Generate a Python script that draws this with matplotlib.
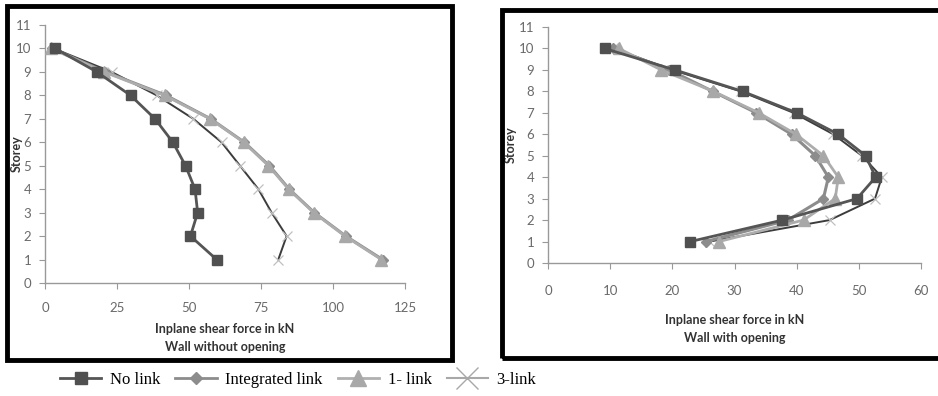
import matplotlib.pyplot as plt
from matplotlib.patches import Rectangle
from matplotlib.lines import Line2D

storey = [10, 9, 8, 7, 6, 5, 4, 3, 2, 1]

# wall without opening
no_link_a = [3.5, 18, 29.7, 38.2, 44.4, 48.8, 52.1, 53.0, 50.5, 59.6]
integ_a = [2.5, 21, 42, 57.5, 69.2, 77.9, 84.8, 93.5, 104.4, 117.2]
one_a = [2.0, 20.5, 41.5, 57.3, 69.0, 77.6, 84.6, 93.3, 104.2, 116.8]
three_a = [3.0, 23.1, 38.8, 51.5, 61.3, 67.7, 74.1, 78.7, 83.9, 81.0]

# wall with opening
no_link_b = [9.1, 20.4, 31.3, 40.0, 46.7, 51.1, 52.7, 49.7, 37.7, 22.9]
integ_b = [10.5, 19.5, 26.5, 33.5, 39.2, 43.0, 45.1, 44.3, 38.6, 25.4]
one_b = [11.4, 18.2, 26.6, 33.9, 39.9, 44.3, 46.7, 46.2, 41.1, 27.5]
three_b = [10.5, 20.0, 31.0, 39.5, 45.9, 50.5, 53.7, 52.6, 45.3, 26.0]

names = ['No link', 'Integrated link', '1- link', '3-link']

plt.rcParams['font.family'] = ['Lato', 'DejaVu Sans']

fig = plt.figure(figsize=(9.38, 3.96), dpi=100)
W, H = 938.0, 396.0


def draw(ax, nl, il, ol, tl, xmax, xstep, sub, pad, lpad, ylx):
    ax.plot(nl, storey, color='#555555', lw=2, marker='s', ms=7, mfc='#505050', mec='#505050', zorder=5)
    ax.plot(il, storey, color='#8c8c8c', lw=2.2, marker='D', ms=5, mfc='#8c8c8c', mec='#8c8c8c', zorder=3)
    ax.plot(ol, storey, color='#adadad', lw=2, marker='^', ms=8, mfc='#a8a8a8', mec='#a8a8a8', zorder=4)
    ax.plot(tl, storey, color='#3c3c3c', lw=1.4, marker='x', ms=7, mew=0.9, mec='#c0c0c0', zorder=2)
    ax.set_xlim(0, xmax)
    ax.set_ylim(0, 11)
    ax.set_xticks(range(0, xmax + 1, xstep))
    ax.set_yticks(range(0, 12))
    for s in ['top', 'right']:
        ax.spines[s].set_visible(False)
    for s in ['left', 'bottom']:
        ax.spines[s].set_color('#999999')
        ax.spines[s].set_linewidth(1)
    ax.tick_params(axis='x', colors='#999999', labelcolor='#6a6a6a', labelsize=9.5, length=4, pad=pad)
    ax.tick_params(axis='y', colors='#999999', labelcolor='#6a6a6a', labelsize=9.5, length=4, pad=6)
    ax.set_ylabel('Storey', fontsize=9, fontweight='bold', color='#333333')
    ax.yaxis.set_label_coords(ylx, 0.5)
    ax.set_xlabel('Inplane shear force in kN\n' + sub, fontsize=9, fontweight='bold',
                  color='#333333', linespacing=1.6, labelpad=lpad)


ax1 = fig.add_axes([45 / W, 1 - 283 / H, 360 / W, 258 / H])
draw(ax1, no_link_a, integ_a, one_a, three_a, 125, 25, 'Wall without opening', 10, 6, -0.062)

ax2 = fig.add_axes([548 / W, 1 - 263 / H, 373 / W, 236 / H])
draw(ax2, no_link_b, integ_b, one_b, three_b, 60, 10, 'Wall with opening', 12, 12, -0.083)

# black frames round the two panels
for x0, y0, x1, y1 in [(7, 6, 452, 360), (502, 10, 945, 358)]:
    fig.patches.append(Rectangle((x0 / W, 1 - y1 / H), (x1 - x0) / W, (y1 - y0) / H,
                                 transform=fig.transFigure, fill=False, ec='black', lw=3.5))

handles = [
    Line2D([], [], color='#555555', lw=2, marker='s', ms=9, mfc='#505050', mec='#505050'),
    Line2D([], [], color='#8c8c8c', lw=2, marker='D', ms=6, mfc='#8c8c8c', mec='#8c8c8c'),
    Line2D([], [], color='#b0b0b0', lw=2, marker='^', ms=11, mfc='#a8a8a8', mec='#a8a8a8'),
    Line2D([], [], color='#a8a8a8', lw=1.5, marker='x', ms=16, mew=1.0, mec='#a8a8a8'),
]
fig.legend(handles, names, loc='center', bbox_to_anchor=(298 / W, 1 - 380 / H), ncol=4,
           frameon=False, prop={'family': 'Liberation Serif', 'size': 12},
           handlelength=2.5, columnspacing=0.9, handletextpad=0.5)

fig.savefig('out.png', dpi=100)
